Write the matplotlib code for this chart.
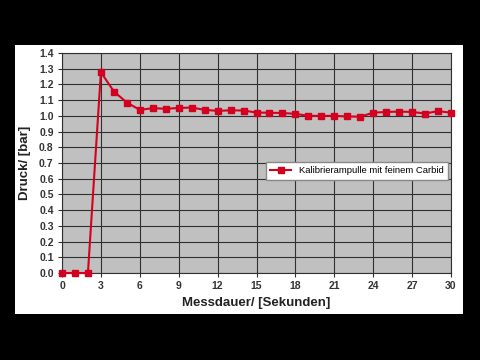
import matplotlib
matplotlib.use("Agg")
import matplotlib.pyplot as plt
import matplotlib.patches as mpatches

# measured pressure over time
seconds = list(range(0, 31))
pressure = [0.0, 0.0, 0.0, 1.278, 1.155, 1.085, 1.038, 1.049, 1.045, 1.05,
            1.053, 1.038, 1.032, 1.035, 1.034, 1.021, 1.02, 1.018, 1.013, 1.0,
            1.0, 1.0, 0.996, 0.995, 1.02, 1.025, 1.027, 1.025, 1.015, 1.03, 1.02]
series_name = "Kalibrierampulle mit feinem Carbid"

plt.rcParams['font.family'] = ['Liberation Sans', 'DejaVu Sans']

fig = plt.figure(figsize=(4.8, 3.6), dpi=100)
fig.patch.set_facecolor('black')

# white panel behind the chart
panel = mpatches.Rectangle((15/480, 1 - 314/360), (463-15)/480, (314-45)/360,
                           transform=fig.transFigure, facecolor='white',
                           edgecolor='none', zorder=-5)
fig.add_artist(panel)

ax = fig.add_axes([62/480, 1 - 273/360, (451-62)/480, (273-53)/360])
ax.set_zorder(2)
ax.set_facecolor('#c0c0c0')

ax.plot(seconds, pressure, color='#d4001f', lw=1.5, marker='s', ms=4.5,
        label=series_name, clip_on=False, zorder=3)

ax.set_xlim(0, 30)
ax.set_ylim(0, 1.4)
ax.set_xticks(range(0, 31, 3))
ax.set_yticks([i / 10 for i in range(15)])
ax.set_yticklabels([f"{i/10:.1f}" for i in range(15)])
ax.grid(True, color='#303030', lw=0.8)
ax.set_axisbelow(True)
for s in ax.spines.values():
    s.set_color('#303030')
    s.set_linewidth(0.8)
ax.tick_params(length=3, color='#303030', labelsize=7.5, pad=3)
for lbl in ax.get_xticklabels() + ax.get_yticklabels():
    lbl.set_fontweight('bold')
    lbl.set_color('#333333')

ax.set_xlabel("Messdauer/ [Sekunden]", fontsize=9.5, fontweight='bold',
              color='#222222', labelpad=4)
ax.set_ylabel("Druck/ [bar]", fontsize=9.5, fontweight='bold',
              color='#222222', labelpad=6)

leg = ax.legend(loc='center', bbox_to_anchor=(0.758, 0.464), fontsize=6.8,
                frameon=True, fancybox=False, edgecolor='#888888',
                handlelength=2.2, borderpad=0.5)
leg.get_frame().set_facecolor('white')
leg.get_frame().set_alpha(1)

fig.savefig("out.png", dpi=100, facecolor=fig.get_facecolor())
